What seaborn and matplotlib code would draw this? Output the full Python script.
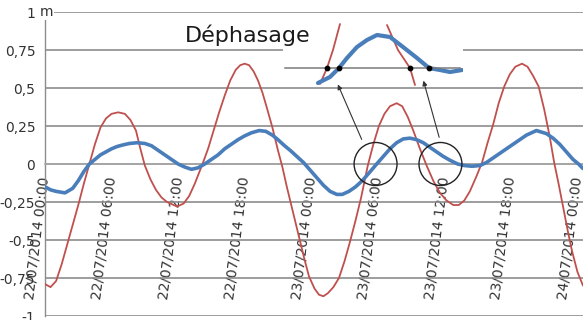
import numpy as np
import pandas as pd
import matplotlib
matplotlib.use("Agg")
import matplotlib.pyplot as plt
import seaborn as sns
from matplotlib.patches import Ellipse, FancyArrowPatch

# ---- main series (hours since 22/07/2014 00:00, level in m) ----
hours_red = [0.0, 0.5, 1.0, 1.5, 2.0, 2.5, 3.0, 3.5, 4.0, 4.5, 5.0, 5.5, 6.0, 6.6, 7.2, 7.7,
             8.2, 8.6, 9.0, 9.5, 10.0, 10.5, 11.0, 11.9, 12.5, 13.0, 13.5, 14.2, 14.7, 15.2,
             15.7, 16.2, 16.7, 17.2, 17.6, 18.0, 18.4, 18.8, 19.2, 19.6, 20.0, 20.5, 21.0,
             21.4, 21.8, 22.2, 22.6, 23.0, 23.4, 23.8, 24.3, 24.7, 25.1, 25.5, 26.0, 26.5,
             27.0, 27.5, 28.0, 28.5, 29.1, 29.6, 30.1, 30.6, 31.1, 31.7, 32.2, 32.7, 33.2,
             33.8, 34.4, 35.0, 35.6, 36.2, 36.8, 37.3, 37.8, 38.3, 38.9, 39.4, 39.9, 40.4,
             40.9, 41.4, 41.9, 42.4, 43.0, 43.5, 44.0, 44.5, 45.0, 45.5, 45.9, 46.3, 46.7,
             47.1, 47.5, 48.0, 48.5]
level_red = [-0.79, -0.81, -0.77, -0.66, -0.53, -0.40, -0.27, -0.13, 0.00, 0.13, 0.24, 0.30,
             0.33, 0.34, 0.33, 0.29, 0.22, 0.10, -0.01, -0.10, -0.17, -0.22, -0.25, -0.28,
             -0.26, -0.21, -0.13, 0.00, 0.10, 0.22, 0.34, 0.45, 0.55, 0.62, 0.65, 0.66, 0.65,
             0.61, 0.55, 0.47, 0.37, 0.24, 0.09, -0.02, -0.15, -0.27, -0.39, -0.51, -0.63,
             -0.74, -0.82, -0.86, -0.87, -0.85, -0.81, -0.75, -0.64, -0.51, -0.37, -0.22,
             -0.01, 0.13, 0.25, 0.33, 0.38, 0.40, 0.38, 0.31, 0.22, 0.10, -0.01, -0.11, -0.19,
             -0.24, -0.27, -0.27, -0.24, -0.18, -0.08, 0.01, 0.14, 0.26, 0.40, 0.51, 0.59,
             0.64, 0.66, 0.64, 0.58, 0.51, 0.36, 0.18, 0.01, -0.13, -0.28, -0.43, -0.57,
             -0.71, -0.80]

hours_blue = [0.0, 0.5, 1.0, 1.8, 2.5, 3.0, 3.5, 4.0, 4.5, 5.0, 5.5, 6.0, 6.5, 7.0, 7.6, 8.3,
              9.0, 9.6, 10.2, 10.8, 11.4, 12.0, 12.6, 13.2, 13.8, 14.4, 15.0, 15.6, 16.2,
              16.8, 17.4, 18.0, 18.6, 19.3, 19.9, 20.5, 21.0, 21.6, 22.1, 22.7, 23.3, 23.9,
              24.5, 25.1, 25.7, 26.3, 26.8, 27.4, 28.0, 28.6, 29.2, 29.9, 30.5, 31.1, 31.7,
              32.3, 32.9, 33.5, 34.1, 34.7, 35.3, 35.9, 36.5, 37.2, 37.8, 38.5, 39.2, 39.8,
              40.4, 41.0, 41.6, 42.2, 42.8, 43.4, 44.3, 45.2, 45.8, 46.4, 47.0, 47.6, 48.1,
              48.5]
level_blue = [-0.15, -0.17, -0.18, -0.19, -0.16, -0.11, -0.05, 0.00, 0.03, 0.06, 0.08, 0.10,
              0.115, 0.125, 0.135, 0.14, 0.135, 0.12, 0.09, 0.06, 0.03, 0.00, -0.02, -0.035,
              -0.025, 0.00, 0.03, 0.06, 0.10, 0.13, 0.16, 0.185, 0.205, 0.22, 0.215, 0.19,
              0.16, 0.12, 0.09, 0.05, 0.01, -0.04, -0.09, -0.14, -0.18, -0.20, -0.20, -0.18,
              -0.15, -0.11, -0.06, 0.00, 0.05, 0.10, 0.14, 0.165, 0.17, 0.16, 0.14, 0.11,
              0.08, 0.05, 0.025, 0.00, -0.01, -0.015, -0.01, 0.01, 0.04, 0.07, 0.10, 0.13,
              0.16, 0.19, 0.22, 0.20, 0.17, 0.13, 0.08, 0.03, 0.00, -0.03]

tick_hours = [0, 6, 12, 18, 24, 30, 36, 42, 48]
tick_labels = ["22/07/2014 00:00", "22/07/2014 06:00", "22/07/2014 12:00",
               "22/07/2014 18:00", "23/07/2014 00:00", "23/07/2014 06:00",
               "23/07/2014 12:00", "23/07/2014 18:00", "24/07/2014 00:00"]
y_ticks = [1, 0.75, 0.5, 0.25, 0, -0.25, -0.5, -0.75, -1]
y_labels = ["1", "0,75", "0,5", "0,25", "0", "-0,25", "-0,5", "-0,75", "-1"]

# ---- inset (zoom on the zero crossings) ----
inset_red_a_x = [37, 44, 50, 57]
inset_red_a_y = [-0.32, 0.0, 0.36, 0.88]
inset_red_b_x = [104, 115, 127, 132]
inset_red_b_y = [0.86, 0.36, 0.0, -0.34]
inset_blue_x = [35, 47, 56, 64, 74, 84, 94, 107, 120, 134, 146, 157, 167, 179]
inset_blue_y = [-0.30, -0.18, 0.0, 0.20, 0.42, 0.56, 0.66, 0.62, 0.42, 0.20, 0.0, -0.04, -0.08, -0.04]
inset_dots_x = [44, 56, 127, 146]
inset_dots_y = [0, 0, 0, 0]

RED = "#c0504d"
BLUE = "#4a7ebb"
GRID = "#8c8c8c"
TXT = "#333333"

sns.set_style("white")
plt.rcParams["font.family"] = ["DejaVu Sans"]

fig = plt.figure(figsize=(5.83, 3.2), dpi=100)
ax = fig.add_axes([45 / 583, 4 / 320, 538 / 583, 304 / 320])

sns.lineplot(x=hours_red, y=level_red, ax=ax, color=RED, lw=1.3, zorder=3)
sns.lineplot(x=hours_blue, y=level_blue, ax=ax, color=BLUE, lw=2.6, zorder=4)

ax.set_xlim(0, 48.5)
ax.set_ylim(-1, 1)
ax.set_yticks(y_ticks)
ax.set_yticklabels(y_labels, fontsize=10, color=TXT)
ax.grid(axis="y", color=GRID, lw=1.2)
ax.grid(axis="x", visible=False)
ax.set_axisbelow(True)
for s in ["top", "right"]:
    ax.spines[s].set_visible(False)
ax.spines["left"].set_color(GRID)
ax.spines["left"].set_linewidth(1.0)
ax.spines["bottom"].set_position(("data", 0))
ax.spines["bottom"].set_color("#a8a8a8")
ax.spines["bottom"].set_linewidth(1.2)
ax.tick_params(axis="y", length=0, pad=7)

ax.set_xticks(tick_hours)
ax.set_xticklabels(tick_labels, fontsize=10, color=TXT)
ax.set_xticks(np.arange(0, 49, 1), minor=True)
ax.tick_params(axis="x", which="major", length=4, direction="inout", color=GRID, pad=7)
ax.tick_params(axis="x", which="minor", length=3, direction="inout", color="#c4c4c4")
for lbl in ax.get_xticklabels():
    lbl.set_rotation(83)
    lbl.set_ha("right")
    lbl.set_va("center")
    lbl.set_rotation_mode("anchor")
ax.set_xlabel("")
ax.set_ylabel("")

# circles around the crossings
for cx in (29.8, 35.65):
    ax.add_patch(Ellipse((cx, 0), width=3.87, height=0.283, fill=False,
                         ec="#222222", lw=1.0, zorder=6))

# inset
axi = fig.add_axes([283 / 583, (320 - 87) / 320, 180 / 583, 69 / 320])
axi.set_facecolor("white")
sns.lineplot(x=inset_red_a_x, y=inset_red_a_y, ax=axi, color=RED, lw=1.3)
sns.lineplot(x=inset_red_b_x, y=inset_red_b_y, ax=axi, color=RED, lw=1.3)
sns.lineplot(x=inset_blue_x, y=inset_blue_y, ax=axi, color=BLUE, lw=3.0)
axi.scatter(inset_dots_x, inset_dots_y, s=10, color="black", zorder=5)
axi.set_xlim(0, 180)
axi.set_ylim(-0.38, 1.0)
for s in ["top", "right", "left"]:
    axi.spines[s].set_visible(False)
axi.spines["bottom"].set_position(("data", 0))
axi.spines["bottom"].set_bounds(2, 177)
axi.spines["bottom"].set_color("#7a7a7a")
axi.spines["bottom"].set_linewidth(1.1)
axi.set_xticks(np.arange(5, 178, 9))
axi.set_xticklabels([])
axi.set_yticks([])
axi.tick_params(axis="x", length=3, direction="in", color="#d6b8b0")

# arrows from circles to inset
for tail, head in (((28.65, 0.145), (26.3, 0.54)), ((35.6, 0.158), (34.05, 0.566))):
    fig.add_artist(FancyArrowPatch(tail, head, transform=ax.transData,
                                   arrowstyle="-|>", mutation_scale=7,
                                   lw=0.8, color="#333333", zorder=6))

fig.text(12.6, 0.80, "Déphasage", transform=ax.transData, fontsize=16,
         color="#1a1a1a", ha="left", va="baseline", zorder=7)
fig.text(-0.45, 1.0, "m", transform=ax.transData, fontsize=10, color=TXT,
         ha="left", va="center", zorder=7,
         bbox=dict(facecolor="white", edgecolor="none", pad=0.5))

fig.savefig("out.png", dpi=100)
